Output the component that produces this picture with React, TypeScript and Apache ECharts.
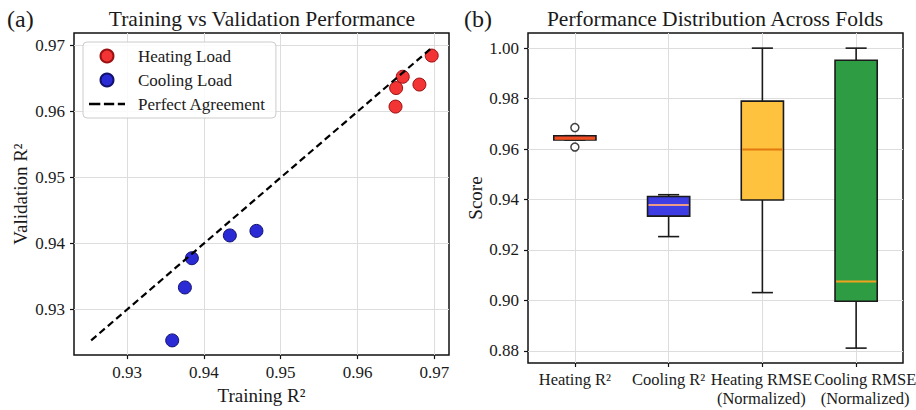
import React, { useEffect, useRef } from 'react';
import * as echarts from 'echarts';

// ---- Panel (a): training vs validation R² per fold ----
const HEATING_TRAIN = [0.96965, 0.96588, 0.96502, 0.96805, 0.96494];
const HEATING_VAL = [0.96848, 0.96527, 0.96356, 0.96409, 0.96075];
const COOLING_TRAIN = [0.93588, 0.93753, 0.93844, 0.94338, 0.94684];
const COOLING_VAL = [0.92533, 0.93335, 0.93778, 0.94123, 0.94192];
const SCATTER_TICKS = [0.93, 0.94, 0.95, 0.96, 0.97];
const SCATTER_MIN = 0.9231;
const SCATTER_MAX = 0.9719;

// ---- Panel (b): distribution across folds ----
const BOX_CATEGORIES = ['Heating R²', 'Cooling R²', 'Heating RMSE\n(Normalized)', 'Cooling RMSE\n(Normalized)'];
// [min whisker, Q1, median, Q3, max whisker]
const BOX_HEATING_R2 = [0.9636, 0.9636, 0.9641, 0.9653, 0.9653];
const BOX_COOLING_R2 = [0.9253, 0.9334, 0.9378, 0.9412, 0.9419];
const BOX_HEATING_RMSE = [0.9031, 0.9398, 0.9598, 0.979, 1.0];
const BOX_COOLING_RMSE = [0.8811, 0.8997, 0.9075, 0.9952, 1.0];
const BOX_OUTLIERS_HEATING_R2 = [0.9685, 0.9608];
const BOX_TICKS = [0.88, 0.9, 0.92, 0.94, 0.96, 0.98, 1.0];
const BOX_MIN = 0.8752;
const BOX_MAX = 1.006;

const FONT = "'Liberation Serif', 'Times New Roman', serif";
const TXT = '#1a1a1a';
const BOX_FILLS = ['#ef4a2c', '#3d3de3', '#ffc23f', '#2e9c42'];
const MEDIAN_COLORS = ['#f0501e', '#eb9a86', '#e2780f', '#f0a11e'];
const LABEL_SHIFT = [0, 0, -1, 9];
const DASH_ICON = 'path://M0,0h11v2.2h-11z M14.5,0h10v2.2h-10z M28,0h7v2.2h-7z';

export default function App() {
  const ref = useRef<HTMLDivElement>(null);

  useEffect(() => {
    if (!ref.current) return;
    const chart = echarts.init(ref.current, undefined, { renderer: 'svg' });

    const heating = HEATING_TRAIN.map((t, i) => [t, HEATING_VAL[i]]);
    const cooling = COOLING_TRAIN.map((t, i) => [t, COOLING_VAL[i]]);
    const all = [...HEATING_TRAIN, ...HEATING_VAL, ...COOLING_TRAIN, ...COOLING_VAL];
    const lo = Math.min(...all);
    const hi = Math.max(...all);

    const boxStats = [BOX_HEATING_R2, BOX_COOLING_R2, BOX_HEATING_RMSE, BOX_COOLING_RMSE];
    const boxData = boxStats.map((s, i) => [i + 1, ...s]);
    const outlierData = BOX_OUTLIERS_HEATING_R2.map((v) => [1, v]);
    const catLabelData = BOX_CATEGORIES.map((name, i) => ({
      value: [i + 1, BOX_MIN],
      name,
      label: { offset: [LABEL_SHIFT[i], 0] },
    }));

    const tickLabel = { fontFamily: FONT, fontSize: 17, color: TXT, hideOverlap: false, showMinLabel: true, showMaxLabel: true };
    const nameStyle = { fontFamily: FONT, fontSize: 19, color: TXT };
    const splitLine = { show: true, lineStyle: { color: '#dddddd', width: 1 } };
    const axisTick = { show: true, inside: false, length: 4, lineStyle: { color: '#111', width: 1.2 } };

    const BOX_W = 0.45;

    const option: any = {
      animation: false,
      backgroundColor: '#ffffff',
      title: [
        { text: '(a)', left: 7, top: 7, padding: 0, textStyle: { fontFamily: FONT, fontSize: 24, fontWeight: 'normal', color: TXT } },
        { text: 'Training vs Validation Performance', left: 262, top: 8, padding: 0, textAlign: 'center', textStyle: { fontFamily: FONT, fontSize: 21.5, fontWeight: 'normal', color: TXT } },
        { text: '(b)', left: 464, top: 7, padding: 0, textStyle: { fontFamily: FONT, fontSize: 24, fontWeight: 'normal', color: TXT } },
        { text: 'Performance Distribution Across Folds', left: 715, top: 8, padding: 0, textAlign: 'center', textStyle: { fontFamily: FONT, fontSize: 21.5, fontWeight: 'normal', color: TXT } },
      ],
      grid: [
        { left: 74, top: 33, width: 375, height: 330, show: true, borderColor: '#111', borderWidth: 1.5, backgroundColor: 'transparent' },
        { left: 528, top: 33, width: 375, height: 330, show: true, borderColor: '#111', borderWidth: 1.5, backgroundColor: 'transparent' },
      ],
      legend: {
        left: 83,
        top: 42,
        orient: 'vertical',
        backgroundColor: 'rgba(255,255,255,0.85)',
        borderColor: '#cccccc',
        borderWidth: 1,
        borderRadius: 4,
        padding: [4, 10, 4, 6],
        itemGap: 4,
        itemWidth: 36,
        itemHeight: 13,
        textStyle: { fontFamily: FONT, fontSize: 17, color: TXT, lineHeight: 20, padding: [0, 0, 0, 8] },
        data: [
          { name: 'Heating Load', icon: 'circle' },
          { name: 'Cooling Load', icon: 'circle' },
          { name: 'Perfect Agreement', icon: DASH_ICON },
        ],
      },
      xAxis: [
        {
          type: 'value', gridIndex: 0, min: SCATTER_MIN, max: SCATTER_MAX,
          name: 'Training R²', nameLocation: 'middle', nameGap: 28, nameTextStyle: nameStyle,
          axisLine: { show: false }, axisTick: { ...axisTick, customValues: SCATTER_TICKS },
          axisLabel: { ...tickLabel, margin: 9, customValues: SCATTER_TICKS, formatter: (v: number) => v.toFixed(2) },
          splitLine,
        },
        {
          type: 'value', gridIndex: 1, min: 0.5, max: 4.5,
          axisLine: { show: false }, axisTick: { ...axisTick, customValues: [1, 2, 3, 4] },
          axisLabel: { show: false, customValues: [1, 2, 3, 4] },
          splitLine,
        },
      ],
      yAxis: [
        {
          type: 'value', gridIndex: 0, min: SCATTER_MIN, max: SCATTER_MAX,
          name: 'Validation R²', nameLocation: 'middle', nameGap: 44, nameTextStyle: nameStyle,
          axisLine: { show: false }, axisTick: { ...axisTick, customValues: SCATTER_TICKS },
          axisLabel: { ...tickLabel, margin: 9, customValues: SCATTER_TICKS, formatter: (v: number) => v.toFixed(2) },
          splitLine,
        },
        {
          type: 'value', gridIndex: 1, min: BOX_MIN, max: BOX_MAX,
          name: 'Score', nameLocation: 'middle', nameGap: 41, nameTextStyle: nameStyle,
          axisLine: { show: false }, axisTick: { ...axisTick, customValues: BOX_TICKS },
          axisLabel: { ...tickLabel, margin: 9, customValues: BOX_TICKS, formatter: (v: number) => v.toFixed(2) },
          splitLine,
        },
      ],
      series: [
        {
          name: 'Heating Load', type: 'scatter', xAxisIndex: 0, yAxisIndex: 0, data: heating,
          symbol: 'circle', symbolSize: 13, z: 3,
          itemStyle: { color: '#f23434', borderColor: '#9b1010', borderWidth: 1, opacity: 1 },
        },
        {
          name: 'Cooling Load', type: 'scatter', xAxisIndex: 0, yAxisIndex: 0, data: cooling,
          symbol: 'circle', symbolSize: 13, z: 3,
          itemStyle: { color: '#2b2bd6', borderColor: '#12126e', borderWidth: 1, opacity: 1 },
        },
        {
          name: 'Perfect Agreement', type: 'line', xAxisIndex: 0, yAxisIndex: 0,
          data: [[lo, lo], [hi, hi]], symbol: 'none', z: 4,
          lineStyle: { color: '#000', width: 2.2, type: [7, 4] },
          itemStyle: { color: '#000' },
        },
        {
          type: 'custom', xAxisIndex: 1, yAxisIndex: 1, data: boxData, z: 3,
          renderItem: (params: any, api: any) => {
            const x = api.value(0);
            const pLo = api.coord([x, api.value(1)]);
            const pQ1 = api.coord([x, api.value(2)]);
            const pMed = api.coord([x, api.value(3)]);
            const pQ3 = api.coord([x, api.value(4)]);
            const pHi = api.coord([x, api.value(5)]);
            const w = api.size([BOX_W, 0])[0];
            const cx = pLo[0];
            const idx = params.dataIndex;
            const ls = { stroke: '#1a1a1a', lineWidth: 1.6 };
            return {
              type: 'group',
              children: [
                { type: 'line', shape: { x1: cx, y1: pQ1[1], x2: cx, y2: pLo[1] }, style: ls },
                { type: 'line', shape: { x1: cx, y1: pQ3[1], x2: cx, y2: pHi[1] }, style: ls },
                { type: 'line', shape: { x1: cx - w / 4, y1: pLo[1], x2: cx + w / 4, y2: pLo[1] }, style: ls },
                { type: 'line', shape: { x1: cx - w / 4, y1: pHi[1], x2: cx + w / 4, y2: pHi[1] }, style: ls },
                {
                  type: 'rect',
                  shape: { x: cx - w / 2, y: pQ3[1], width: w, height: pQ1[1] - pQ3[1] },
                  style: { fill: BOX_FILLS[idx], stroke: '#1a1a1a', lineWidth: 1.6 },
                },
                {
                  type: 'line',
                  shape: { x1: cx - w / 2 + 1, y1: pMed[1], x2: cx + w / 2 - 1, y2: pMed[1] },
                  style: { stroke: MEDIAN_COLORS[idx], lineWidth: 2 },
                },
              ],
            };
          },
        },
        {
          type: 'scatter', xAxisIndex: 1, yAxisIndex: 1, data: outlierData, z: 4,
          symbol: 'circle', symbolSize: 8,
          itemStyle: { color: '#ffffff', borderColor: '#111', borderWidth: 1.5 },
        },
        {
          // category tick labels of panel (b), placed through the axis scale
          type: 'scatter', xAxisIndex: 1, yAxisIndex: 1, data: catLabelData, z: 5,
          symbol: 'circle', symbolSize: 1, clip: false, silent: true,
          itemStyle: { color: 'rgba(0,0,0,0)', opacity: 1 },
          label: {
            show: true, position: 'bottom', distance: 7, opacity: 1,
            formatter: (p: any) => p.name,
            fontFamily: FONT, fontSize: 16.5, color: TXT, lineHeight: 18.5, align: 'center',
          },
        },
      ],
    };

    chart.setOption(option);
    return () => chart.dispose();
  }, []);

  return <div ref={ref} style={{ position: 'absolute', left: 0, top: 0, width: 916, height: 410 }} />;
}
